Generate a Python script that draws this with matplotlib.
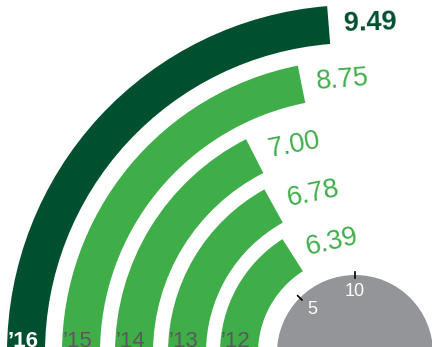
import numpy as np
import matplotlib
matplotlib.use("Agg")
import matplotlib.pyplot as plt
from matplotlib.patches import Wedge, Circle

plt.rcParams["font.family"] = ["Liberation Sans", "DejaVu Sans"]

# ---------------------------------------------------------------------------
# Data (outermost ring first)
# ---------------------------------------------------------------------------
years = ["\u201916", "\u201915", "\u201914", "\u201913", "\u201912"]
values = [9.49, 8.75, 7.00, 6.78, 6.39]
highlight = [True, False, False, False, False]
scale_ticks = [5, 10]

# ---------------------------------------------------------------------------
# Geometry / style (pixel units, y up)
# ---------------------------------------------------------------------------
W, H = 432, 347
CX, CY = 355, -6                 # centre sits just below the bottom edge
OUTER = [348, 293, 240, 187, 135]
BAND = 38
HUB_R = 78
DEG_PER_UNIT = 9.0               # 0 at 180 deg (left), 10 at 90 deg (top)

DARK = "#00502f"
LIGHT = "#3fae49"
HUB = "#939598"
YEAR_GREY = "#58595b"


def angle_of(v):
    return 180.0 - v * DEG_PER_UNIT


fig = plt.figure(figsize=(W / 100, H / 100), dpi=100)
ax = fig.add_axes([0, 0, 1, 1])
ax.set_xlim(0, W)
ax.set_ylim(0, H)
ax.set_aspect("equal")
ax.axis("off")

for yr, v, r_out, hl in zip(years, values, OUTER, highlight):
    col = DARK if hl else LIGHT
    th = angle_of(v)
    ax.add_patch(Wedge((CX, CY), r_out, th, 180, width=BAND,
                       facecolor=col, edgecolor="none"))

    # value label just past the end of the bar
    r_mid = r_out - BAND / 2
    off = np.degrees(15.0 / r_mid)
    a = np.radians(th - off)
    tx = CX + r_mid * np.cos(a)
    ty = CY + r_mid * np.sin(a)
    ax.text(tx, ty, f"{v:.2f}", fontsize=19.5,
            fontweight="bold" if hl else "normal", color=col,
            ha="left", va="center", rotation=(th - 90) * 0.4,
            rotation_mode="anchor")

    # year label at the foot of the ring (cut by the bottom edge, as in the print)
    ax.text(CX - r_out + 1, 0, yr, fontsize=16,
            fontweight="bold" if hl else "normal",
            color="white" if hl else YEAR_GREY,
            ha="left", va="baseline")

# grey hub with scale
ax.add_patch(Circle((CX, CY), HUB_R, facecolor=HUB, edgecolor="none"))
for t in scale_ticks:
    a = np.radians(angle_of(t))
    ax.plot([CX + (HUB_R - 3) * np.cos(a), CX + (HUB_R + 3) * np.cos(a)],
            [CY + (HUB_R - 3) * np.sin(a), CY + (HUB_R + 3) * np.sin(a)],
            color="black", lw=1.2)
    ax.text(CX + 61 * np.cos(a), CY + 61 * np.sin(a), str(t),
            fontsize=13, color="white", ha="center", va="center")

fig.savefig("out.png", dpi=100)
